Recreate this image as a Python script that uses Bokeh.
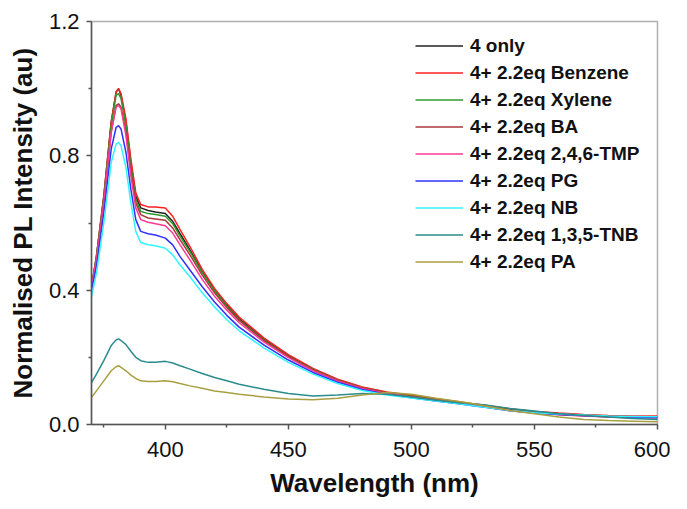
from bokeh.plotting import figure
from bokeh.models import FixedTicker, Legend, LegendItem, Range1d, PrintfTickFormatter
from bokeh.embed import file_html
from bokeh.resources import INLINE

wavelength = [370, 372, 375, 378, 380, 381, 382, 384, 386, 388, 390, 393, 396, 400, 403, 406, 410,
              415, 420, 425, 430, 440, 450, 460, 470, 480, 490, 500, 510, 520, 525, 530, 540,
              550, 560, 570, 580, 590, 600]

only4 = [0.41, 0.50, 0.68, 0.90, 0.99, 1.0, 0.98, 0.90, 0.78, 0.68, 0.645, 0.637, 0.633, 0.628, 0.605, 0.568, 0.52,
         0.455, 0.40, 0.355, 0.315, 0.255, 0.205, 0.165, 0.133, 0.11, 0.095, 0.085, 0.075, 0.065, 0.06, 0.055, 0.045,
         0.037, 0.032, 0.028, 0.025, 0.023, 0.022]
benzene = [0.41, 0.50, 0.68, 0.90, 0.99, 1.0, 0.985, 0.91, 0.79, 0.69, 0.655, 0.648, 0.648, 0.645, 0.62, 0.58, 0.53,
           0.462, 0.405, 0.36, 0.32, 0.258, 0.208, 0.167, 0.135, 0.112, 0.097, 0.087, 0.077, 0.067, 0.062, 0.057, 0.047,
           0.039, 0.034, 0.03, 0.027, 0.025, 0.025]
xylene = [0.41, 0.50, 0.67, 0.89, 0.98, 0.985, 0.97, 0.89, 0.77, 0.67, 0.635, 0.628, 0.625, 0.62, 0.598, 0.56, 0.515,
          0.452, 0.398, 0.352, 0.312, 0.252, 0.203, 0.163, 0.132, 0.109, 0.094, 0.084, 0.074, 0.064, 0.059, 0.054, 0.044,
          0.036, 0.031, 0.027, 0.024, 0.022, 0.021]
ba = [0.41, 0.49, 0.66, 0.87, 0.95, 0.955, 0.945, 0.87, 0.755, 0.66, 0.625, 0.615, 0.612, 0.608, 0.585, 0.55, 0.505,
      0.445, 0.392, 0.348, 0.31, 0.25, 0.202, 0.162, 0.131, 0.108, 0.093, 0.083, 0.073, 0.063, 0.058, 0.053, 0.043,
      0.035, 0.03, 0.026, 0.023, 0.021, 0.02]
tmp = [0.41, 0.49, 0.66, 0.87, 0.945, 0.95, 0.94, 0.86, 0.74, 0.645, 0.61, 0.602, 0.598, 0.592, 0.57, 0.535, 0.49,
       0.432, 0.382, 0.34, 0.303, 0.246, 0.199, 0.16, 0.13, 0.107, 0.092, 0.082, 0.072, 0.062, 0.057, 0.052, 0.042,
       0.034, 0.029, 0.025, 0.022, 0.02, 0.019]
pg = [0.40, 0.47, 0.63, 0.82, 0.885, 0.89, 0.88, 0.81, 0.70, 0.61, 0.575, 0.568, 0.564, 0.555, 0.535, 0.5, 0.46,
      0.41, 0.365, 0.325, 0.29, 0.237, 0.192, 0.155, 0.126, 0.104, 0.09, 0.08, 0.07, 0.061, 0.056, 0.051, 0.041,
      0.034, 0.03, 0.027, 0.024, 0.022, 0.021]
nb = [0.38, 0.45, 0.60, 0.78, 0.835, 0.84, 0.83, 0.765, 0.66, 0.575, 0.542, 0.535, 0.532, 0.525, 0.505, 0.475, 0.44,
      0.392, 0.35, 0.312, 0.279, 0.228, 0.185, 0.15, 0.122, 0.101, 0.088, 0.079, 0.07, 0.061, 0.056, 0.051, 0.042,
      0.035, 0.031, 0.028, 0.025, 0.024, 0.023]
tnb = [0.125, 0.15, 0.19, 0.235, 0.252, 0.255, 0.25, 0.238, 0.218, 0.2, 0.19, 0.185, 0.185, 0.188, 0.183, 0.175, 0.165,
       0.152, 0.14, 0.13, 0.12, 0.105, 0.092, 0.085, 0.088, 0.092, 0.09, 0.082, 0.072, 0.064, 0.062, 0.058, 0.048,
       0.04, 0.032, 0.027, 0.022, 0.018, 0.015]
pa = [0.08, 0.10, 0.13, 0.16, 0.172, 0.175, 0.17, 0.16, 0.147, 0.137, 0.13, 0.128, 0.128, 0.13, 0.127, 0.122, 0.115,
      0.108, 0.10, 0.095, 0.09, 0.082, 0.076, 0.074, 0.078, 0.088, 0.095, 0.09, 0.078, 0.068, 0.062, 0.055, 0.042,
      0.032, 0.022, 0.015, 0.012, 0.01, 0.008]

series_labels = ["4 only", "4+ 2.2eq Benzene", "4+ 2.2eq Xylene", "4+ 2.2eq BA", "4+ 2.2eq 2,4,6-TMP",
                 "4+ 2.2eq PG", "4+ 2.2eq NB", "4+ 2.2eq 1,3,5-TNB", "4+ 2.2eq PA"]
series_values = [only4, benzene, xylene, ba, tmp, pg, nb, tnb, pa]
series_colors = ["#222222", "#ff2020", "#2e9a2e", "#a83838", "#ff3a90", "#3030ff", "#30f5ff", "#2a8c8c", "#a8a040"]

x_major = [400, 450, 500, 550, 600]
x_minor = [375, 425, 475, 525, 575]
y_major = [0.0, 0.4, 0.8, 1.2]
y_minor = [0.2, 0.6, 1.0]

FONT = "Liberation Sans"

p = figure(width=670, height=500, output_backend="svg", toolbar_location=None,
           x_range=Range1d(370, 600), y_range=Range1d(0, 1.2),
           min_border_left=91, min_border_right=13, min_border_top=21, min_border_bottom=67)
p.grid.visible = False
p.outline_line_color = "#b0b0b0"
p.outline_line_width = 1.5
p.background_fill_color = "white"
p.border_fill_color = "white"

items = []
for lab, vals, col in zip(series_labels, series_values, series_colors):
    r = p.line(wavelength, vals, line_color=col, line_width=1.5)
    items.append(LegendItem(label=lab, renderers=[r]))

p.xaxis.ticker = FixedTicker(ticks=x_major, minor_ticks=x_minor)
p.yaxis.ticker = FixedTicker(ticks=y_major, minor_ticks=y_minor)
p.yaxis.formatter = PrintfTickFormatter(format="%.1f")

for ax in (p.xaxis[0], p.yaxis[0]):
    ax.axis_line_color = "#555555"
    ax.axis_line_width = 1.5
    ax.major_tick_line_color = "#555555"
    ax.minor_tick_line_color = "#555555"
    ax.major_tick_line_width = 1.5
    ax.minor_tick_line_width = 1.5
    ax.major_tick_out = 5
    ax.major_tick_in = 0
    ax.minor_tick_out = 3
    ax.minor_tick_in = 0
    ax.major_label_text_font = FONT
    ax.major_label_text_font_size = "22px"
    ax.major_label_text_color = "#111111"
    ax.axis_label_text_font = FONT
    ax.axis_label_text_font_size = "26px"
    ax.axis_label_text_font_style = "bold"
    ax.axis_label_text_color = "#111111"

p.xaxis.axis_label = "Wavelength (nm)"
p.yaxis.axis_label = "Normalised PL Intensity (au)"
p.xaxis.major_label_standoff = 12
p.xaxis.axis_label_standoff = 8
p.yaxis.major_label_standoff = 7
p.yaxis.axis_label_standoff = 8

legend = Legend(items=items, location=(324, 149), border_line_color=None,
                background_fill_alpha=0, padding=0, spacing=0,
                glyph_width=48, glyph_height=27, label_height=27, label_standoff=7,
                label_text_font=FONT, label_text_font_size="19px", label_text_font_style="bold",
                label_text_color="#111111", margin=0)
p.add_layout(legend, "center")

open("out.html", "w").write(file_html(p, INLINE))
